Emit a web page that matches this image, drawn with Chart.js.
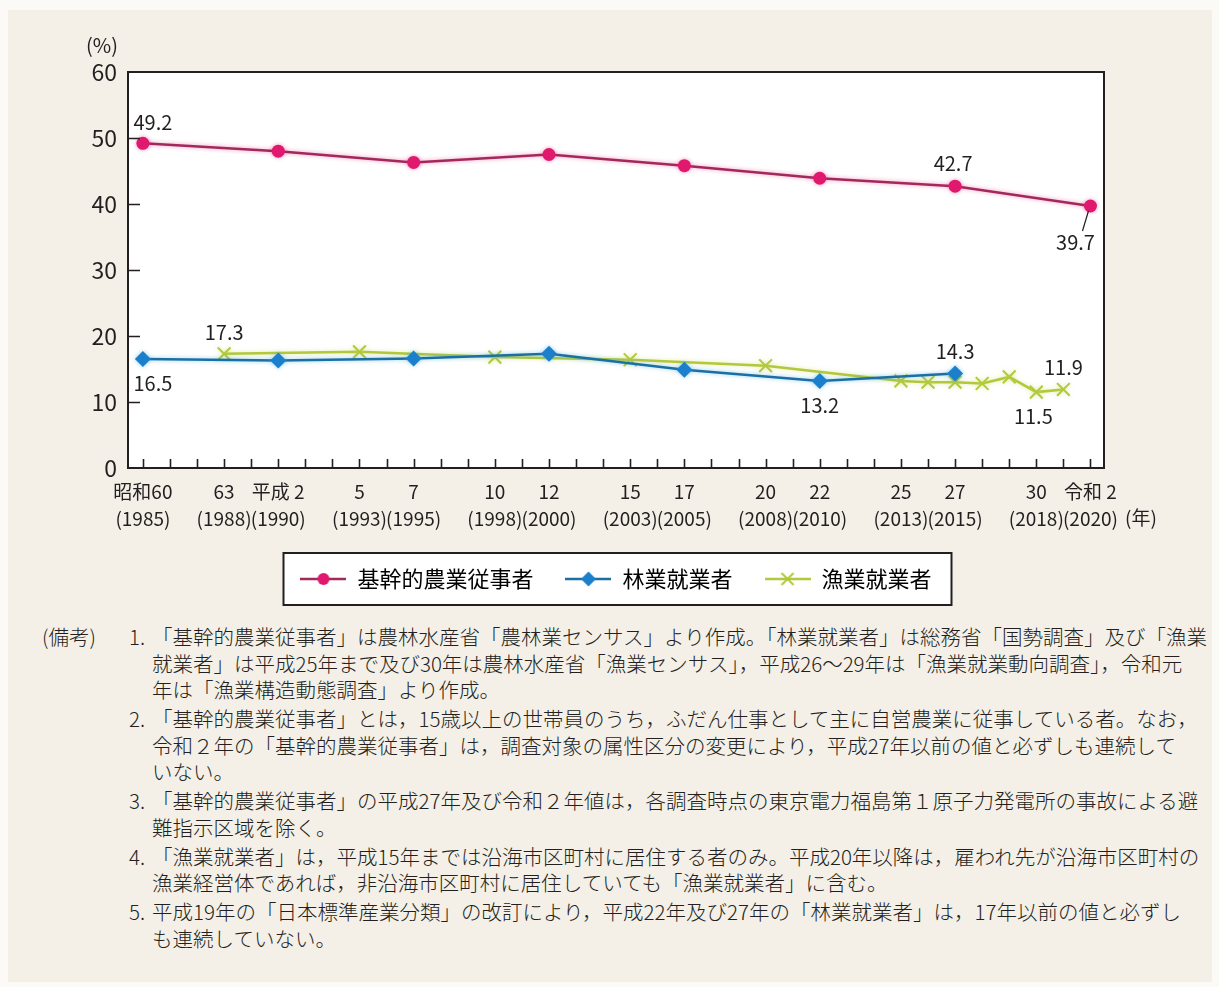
<!DOCTYPE html>
<html lang="ja">
<head>
<meta charset="utf-8">
<title>基幹的農業従事者・林業就業者・漁業就業者</title>
<script src="https://cdn.jsdelivr.net/npm/chart.js@4.4.1/dist/chart.umd.min.js"></script>
<style>
  html, body { margin: 0; padding: 0; background: #fbfaf6; }
  body { width: 1219px; height: 987px; position: relative; overflow: hidden;
         font-family: "Noto Sans CJK JP", "Noto Sans", sans-serif; color: #231f20; }
  #panel { position: absolute; left: 8px; top: 10px; width: 1204px; height: 972px; background: #f4f0e8; }
  #chartBox { position: absolute; left: 0; top: 0; width: 1219px; height: 620px; }
  #notes { position: absolute; left: 0; top: 623px; width: 1219px; font-size: 20.5px; line-height: 26.5px; font-weight: 300; }
  #notes .head { position: absolute; left: 42px; top: 0; }
  #notes .item { position: relative; padding-left: 152px; margin-bottom: 2.5px; white-space: nowrap; }
  #notes .num { position: absolute; left: 129px; top: 0; }
</style>
</head>
<body>
<div id="panel"></div>
<div id="chartBox"><canvas id="shareChart" width="1219" height="620"></canvas></div>

<div id="notes">
  <div class="head">(備考)</div>
  <div class="item"><span class="num">1.</span>「基幹的農業従事者」は農林水産省「農林業センサス」より作成。「林業就業者」は総務省「国勢調査」及び「漁業<br>就業者」は平成25年まで及び30年は農林水産省「漁業センサス」，平成26～29年は「漁業就業動向調査」，令和元<br>年は「漁業構造動態調査」より作成。</div>
  <div class="item"><span class="num">2.</span>「基幹的農業従事者」とは，15歳以上の世帯員のうち，ふだん仕事として主に自営農業に従事している者。なお，<br>令和２年の「基幹的農業従事者」は，調査対象の属性区分の変更により，平成27年以前の値と必ずしも連続して<br>いない。</div>
  <div class="item"><span class="num">3.</span>「基幹的農業従事者」の平成27年及び令和２年値は，各調査時点の東京電力福島第１原子力発電所の事故による避<br>難指示区域を除く。</div>
  <div class="item"><span class="num">4.</span>「漁業就業者」は，平成15年までは沿海市区町村に居住する者のみ。平成20年以降は，雇われ先が沿海市区町村の<br>漁業経営体であれば，非沿海市区町村に居住していても「漁業就業者」に含む。</div>
  <div class="item"><span class="num">5.</span>平成19年の「日本標準産業分類」の改訂により，平成22年及び27年の「林業就業者」は，17年以前の値と必ずし<br>も連続していない。</div>
</div>

<script>
// 基幹的農業従事者・林業就業者・漁業就業者に占める65歳以上の割合（%）
const farmYears = [1985, 1990, 1995, 2000, 2005, 2010, 2015, 2020];
const farmShare = [49.2, 48.0, 46.3, 47.5, 45.8, 43.9, 42.7, 39.7];

const forestYears = [1985, 1990, 1995, 2000, 2005, 2010, 2015];
const forestShare = [16.5, 16.3, 16.6, 17.3, 14.9, 13.2, 14.3];

const fishYears = [1988, 1993, 1998, 2003, 2008, 2013, 2014, 2015, 2016, 2017, 2018, 2019];
const fishShare = [17.3, 17.6, 16.8, 16.4, 15.5, 13.2, 13.0, 13.0, 12.8, 13.8, 11.5, 11.9];

// 横軸の目盛ラベル（和暦と西暦）
const tickYears = [1985, 1988, 1990, 1993, 1995, 1998, 2000, 2003, 2005, 2008, 2010, 2013, 2015, 2018, 2020];
const eraLabels = ["昭和60", "63", "平成 2", "5", "7", "10", "12", "15", "17", "20", "22", "25", "27", "30", "令和 2"];
const westernLabels = ["(1985)", "(1988)", "(1990)", "(1993)", "(1995)", "(1998)", "(2000)", "(2003)", "(2005)", "(2008)", "(2010)", "(2013)", "(2015)", "(2018)", "(2020)"];

const ink = "#231f20";
const font = "'Noto Sans CJK JP', 'Noto Sans', sans-serif";

const farmDot = "#e0186e", farmLine = "#a3285c";
const forestDot = "#1b7fcc", forestLine = "#1c6fa3";
const fishColor = "#b3c83a";

// 数値ラベルの位置（点からのずれ）
const callouts = [
  { ds: 0, year: 1985, dx: 10, dy: -21 },
  { ds: 0, year: 2015, dx: -2, dy: -23 },
  { ds: 0, year: 2020, dx: -15, dy: 36, leader: true },
  { ds: 1, year: 1985, dx: 10, dy: 24 },
  { ds: 1, year: 2010, dx: 0, dy: 25 },
  { ds: 1, year: 2015, dx: 0, dy: -22 },
  { ds: 2, year: 1988, dx: 0, dy: -21 },
  { ds: 2, year: 2018, dx: -3, dy: 24 },
  { ds: 2, year: 2019, dx: 0, dy: -22 }
];

const toPoints = (xs, ys) => xs.map((x, i) => ({ x, y: ys[i] }));

// 凡例用の線＋マーカー
function legendGlyph(lineColor, dotColor, shape) {
  const c = document.createElement("canvas");
  c.width = 46; c.height = 20;
  const g = c.getContext("2d");
  g.strokeStyle = lineColor; g.lineWidth = 2.5;
  g.beginPath(); g.moveTo(0, 10); g.lineTo(46, 10); g.stroke();
  g.fillStyle = dotColor; g.strokeStyle = dotColor;
  g.beginPath();
  if (shape === "circle") {
    g.arc(23, 10, 6, 0, Math.PI * 2); g.fill();
  } else if (shape === "diamond") {
    g.moveTo(23, 2.5); g.lineTo(30.5, 10); g.lineTo(23, 17.5); g.lineTo(15.5, 10); g.closePath(); g.fill();
  } else {
    g.lineWidth = 2;
    g.moveTo(17, 4); g.lineTo(29, 16); g.moveTo(29, 4); g.lineTo(17, 16); g.stroke();
  }
  return c;
}
const glyphs = [
  legendGlyph(farmLine, farmDot, "circle"),
  legendGlyph(forestLine, forestDot, "diamond"),
  legendGlyph(fishColor, fishColor, "cross")
];

const framePlugin = {
  id: "frame",
  beforeDraw(chart) {
    const { ctx, chartArea: a } = chart;
    ctx.save();
    ctx.fillStyle = "#ffffff";
    ctx.fillRect(a.left, a.top, a.width, a.height);
    const box = legendBox(chart);
    if (box) ctx.fillRect(box.x, box.y, box.w, box.h);
    ctx.restore();
  },
  beforeDatasetDraw(chart, args) {
    const ds = chart.data.datasets[args.index];
    chart.ctx.save();
    chart.ctx.shadowColor = ds.glow;
    chart.ctx.shadowBlur = 4;
  },
  afterDatasetDraw(chart) {
    chart.ctx.restore();
  },
  afterDatasetsDraw(chart) {
    const { ctx } = chart;
    ctx.save();
    ctx.fillStyle = ink;
    ctx.strokeStyle = ink;
    ctx.font = "20px " + font;
    ctx.textAlign = "center";
    ctx.textBaseline = "middle";
    callouts.forEach(c => {
      const ds = chart.data.datasets[c.ds];
      const idx = ds.data.findIndex(p => p.x === c.year);
      const el = chart.getDatasetMeta(c.ds).data[idx];
      const lx = el.x + c.dx, ly = el.y + c.dy;
      if (c.leader) {
        ctx.lineWidth = 1.2;
        ctx.beginPath();
        ctx.moveTo(el.x - 2, el.y + 5);
        ctx.lineTo(lx + 7, ly - 11);
        ctx.stroke();
      }
      ctx.fillText(ds.data[idx].y.toFixed(1), lx, ly);
    });
    ctx.restore();
  },
  afterDraw(chart) {
    const { ctx, chartArea: a, scales } = chart;
    ctx.save();
    ctx.strokeStyle = ink;
    ctx.lineWidth = 2;
    ctx.strokeRect(a.left, a.top, a.width, a.height);

    // 内向きの目盛
    ctx.lineWidth = 1.6;
    ctx.beginPath();
    for (let yr = 1985; yr <= 2020; yr++) {
      const px = Math.round(scales.x.getPixelForValue(yr)) + 0.5;
      ctx.moveTo(px, a.bottom);
      ctx.lineTo(px, a.bottom - 9);
    }
    scales.y.ticks.forEach(t => {
      if (t.value <= 0 || t.value >= 60) return;
      const py = Math.round(scales.y.getPixelForValue(t.value)) + 0.5;
      ctx.moveTo(a.left, py);
      ctx.lineTo(a.left + 12, py);
    });
    ctx.stroke();

    ctx.fillStyle = ink;
    ctx.textBaseline = "middle";
    ctx.textAlign = "center";
    ctx.font = "20px " + font;
    ctx.fillText("(%)", 102, 45);
    ctx.font = "19px " + font;
    ctx.fillText("(年)", 1141, 518);

    const box = legendBox(chart);
    if (box) {
      ctx.lineWidth = 2;
      ctx.strokeRect(box.x, box.y, box.w, box.h);
    }
    ctx.restore();
  }
};

function legendBox(chart) {
  const hb = chart.legend && chart.legend.legendHitBoxes;
  if (!hb || !hb.length) return null;
  const last = hb[hb.length - 1];
  const cy = hb[0].top + hb[0].height / 2;
  const x = hb[0].left - 17;
  return { x, y: cy - 26, w: last.left + last.width + 20 - x, h: 52 };
}

new Chart(document.getElementById("shareChart"), {
  type: "line",
  data: {
    datasets: [
      {
        label: "基幹的農業従事者",
        data: toPoints(farmYears, farmShare),
        borderColor: farmLine, borderWidth: 2.5,
        pointStyle: "circle", pointRadius: 6.5,
        pointBackgroundColor: farmDot, pointBorderColor: farmDot, pointBorderWidth: 0,
        glow: "rgba(224,24,110,0.45)"
      },
      {
        label: "林業就業者",
        data: toPoints(forestYears, forestShare),
        borderColor: forestLine, borderWidth: 2.5,
        pointStyle: "rectRot", pointRadius: 8,
        pointBackgroundColor: forestDot, pointBorderColor: forestDot, pointBorderWidth: 0,
        glow: "rgba(60,170,230,0.55)"
      },
      {
        label: "漁業就業者",
        data: toPoints(fishYears, fishShare),
        borderColor: fishColor, borderWidth: 2.5,
        pointStyle: "crossRot", pointRadius: 9,
        pointBackgroundColor: fishColor, pointBorderColor: fishColor, pointBorderWidth: 2,
        glow: "rgba(200,220,90,0.5)"
      }
    ]
  },
  options: {
    responsive: false,
    animation: false,
    devicePixelRatio: 1,
    events: [],
    layout: { padding: { top: 72, right: 115, bottom: 20, left: 0 } },
    scales: {
      x: {
        type: "linear",
        min: 1984.45,
        max: 2020.5,
        grid: { display: false, drawTicks: false },
        border: { display: false },
        afterBuildTicks: scale => { scale.ticks = tickYears.map(v => ({ value: v })); },
        afterFit: scale => { scale.height = 68; },
        ticks: {
          autoSkip: false, maxRotation: 0, minRotation: 0, padding: 10,
          color: ink, font: { family: font, size: 19, lineHeight: 1.42 },
          callback: v => {
            const i = tickYears.indexOf(v);
            return i < 0 ? "" : [eraLabels[i], westernLabels[i]];
          }
        }
      },
      y: {
        min: 0,
        max: 60,
        grid: { display: false, drawTicks: false },
        border: { display: false },
        afterFit: scale => { scale.width = 128; },
        ticks: { stepSize: 10, padding: 11, color: ink, font: { family: font, size: 23 } }
      }
    },
    plugins: {
      tooltip: { enabled: false },
      legend: {
        position: "bottom",
        fullSize: false,
        labels: {
          usePointStyle: true,
          pointStyleWidth: 46,
          padding: 32,
          color: ink,
          font: { family: font, size: 22 },
          generateLabels: chart => chart.data.datasets.map((ds, i) => ({
            text: ds.label,
            pointStyle: glyphs[i],
            datasetIndex: i,
            hidden: false,
            lineWidth: 0,
            fillStyle: "transparent",
            strokeStyle: "transparent"
          }))
        }
      }
    }
  },
  plugins: [framePlugin]
});
</script>
</body>
</html>
